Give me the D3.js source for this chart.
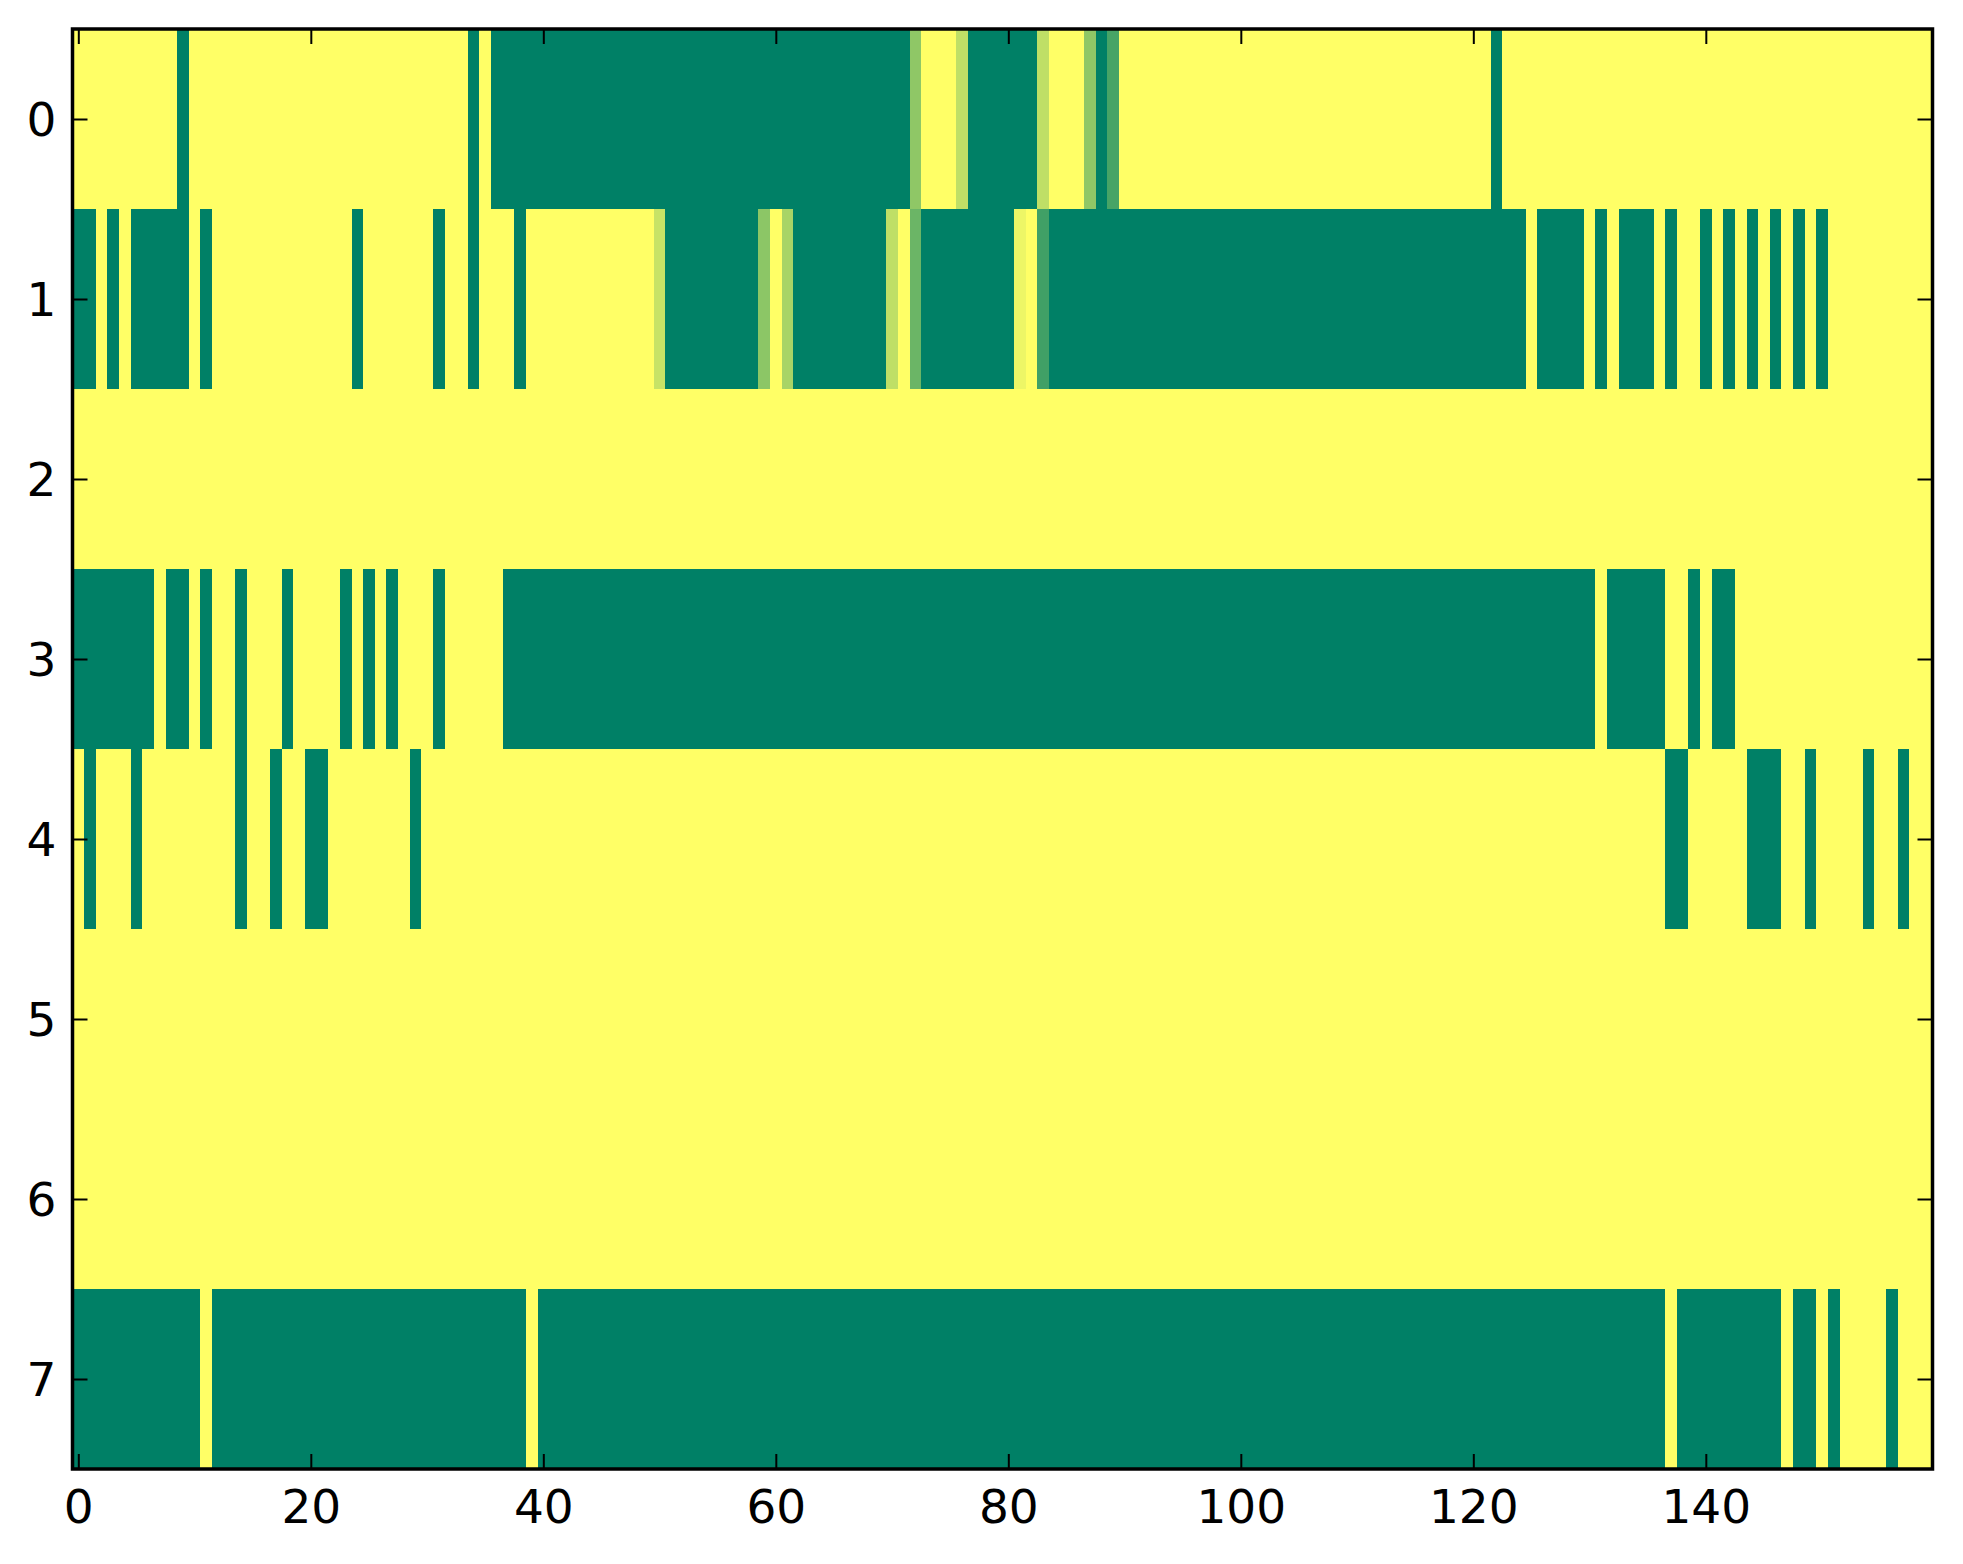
<!DOCTYPE html>
<html>
<head>
<meta charset="utf-8">
<script src="https://cdnjs.cloudflare.com/ajax/libs/d3/7.8.5/d3.min.js"></script>
<style>
  body { margin: 0; background: #fff; }
  text { font-family: "DejaVu Sans", sans-serif; }
</style>
</head>
<body>
<script>
// grid values, 0 = green, 1 = yellow (summer colormap)
var row0 = [
  1,1,1,1,1,1,1,1,1,0,1,1,1,1,1,1,1,1,1,1,
  1,1,1,1,1,1,1,1,1,1,1,1,1,1,0,1,0,0,0,0,
  0,0,0,0,0,0,0,0,0,0,0,0,0,0,0,0,0,0,0,0,
  0,0,0,0,0,0,0,0,0,0,0,0,0.56,1,1,1,0.75,0,0,0,
  0,0,0,0.75,1,1,1,0.56,0,0.28,1,1,1,1,1,1,1,1,1,1,
  1,1,1,1,1,1,1,1,1,1,1,1,1,1,1,1,1,1,1,1,
  1,1,0,1,1,1,1,1,1,1,1,1,1,1,1,1,1,1,1,1,
  1,1,1,1,1,1,1,1,1,1,1,1,1,1,1,1,1,1,1,1
]
var row1 = [
  0,0,1,0,1,0,0,0,0,0,1,0,1,1,1,1,1,1,1,1,
  1,1,1,1,0,1,1,1,1,1,1,0,1,1,0,1,1,1,0,1,
  1,1,1,1,1,1,1,1,1,1,0.78,0,0,0,0,0,0,0,0,0.55,
  1,0.66,0,0,0,0,0,0,0,0,0.75,1,0.42,0,0,0,0,0,0,0,
  0,0.93,1,0.25,0,0,0,0,0,0,0,0,0,0,0,0,0,0,0,0,
  0,0,0,0,0,0,0,0,0,0,0,0,0,0,0,0,0,0,0,0,
  0,0,0,0,0,1,0,0,0,0,1,0,1,0,0,0,1,0,1,1,
  0,1,0,1,0,1,0,1,0,1,0,1,1,1,1,1,1,1,1,1
]
var row2 = [
  1,1,1,1,1,1,1,1,1,1,1,1,1,1,1,1,1,1,1,1,
  1,1,1,1,1,1,1,1,1,1,1,1,1,1,1,1,1,1,1,1,
  1,1,1,1,1,1,1,1,1,1,1,1,1,1,1,1,1,1,1,1,
  1,1,1,1,1,1,1,1,1,1,1,1,1,1,1,1,1,1,1,1,
  1,1,1,1,1,1,1,1,1,1,1,1,1,1,1,1,1,1,1,1,
  1,1,1,1,1,1,1,1,1,1,1,1,1,1,1,1,1,1,1,1,
  1,1,1,1,1,1,1,1,1,1,1,1,1,1,1,1,1,1,1,1,
  1,1,1,1,1,1,1,1,1,1,1,1,1,1,1,1,1,1,1,1
]
var row3 = [
  0,0,0,0,0,0,0,1,0,0,1,0,1,1,0,1,1,1,0,1,
  1,1,1,0,1,0,1,0,1,1,1,0,1,1,1,1,1,0,0,0,
  0,0,0,0,0,0,0,0,0,0,0,0,0,0,0,0,0,0,0,0,
  0,0,0,0,0,0,0,0,0,0,0,0,0,0,0,0,0,0,0,0,
  0,0,0,0,0,0,0,0,0,0,0,0,0,0,0,0,0,0,0,0,
  0,0,0,0,0,0,0,0,0,0,0,0,0,0,0,0,0,0,0,0,
  0,0,0,0,0,0,0,0,0,0,0,1,0,0,0,0,0,1,1,0,
  1,0,0,1,1,1,1,1,1,1,1,1,1,1,1,1,1,1,1,1
]
var row4 = [
  1,0,1,1,1,0,1,1,1,1,1,1,1,1,0,1,1,0,1,1,
  0,0,1,1,1,1,1,1,1,0,1,1,1,1,1,1,1,1,1,1,
  1,1,1,1,1,1,1,1,1,1,1,1,1,1,1,1,1,1,1,1,
  1,1,1,1,1,1,1,1,1,1,1,1,1,1,1,1,1,1,1,1,
  1,1,1,1,1,1,1,1,1,1,1,1,1,1,1,1,1,1,1,1,
  1,1,1,1,1,1,1,1,1,1,1,1,1,1,1,1,1,1,1,1,
  1,1,1,1,1,1,1,1,1,1,1,1,1,1,1,1,1,0,0,1,
  1,1,1,1,0,0,0,1,1,0,1,1,1,1,0,1,1,0,1,1
]
var row5 = [
  1,1,1,1,1,1,1,1,1,1,1,1,1,1,1,1,1,1,1,1,
  1,1,1,1,1,1,1,1,1,1,1,1,1,1,1,1,1,1,1,1,
  1,1,1,1,1,1,1,1,1,1,1,1,1,1,1,1,1,1,1,1,
  1,1,1,1,1,1,1,1,1,1,1,1,1,1,1,1,1,1,1,1,
  1,1,1,1,1,1,1,1,1,1,1,1,1,1,1,1,1,1,1,1,
  1,1,1,1,1,1,1,1,1,1,1,1,1,1,1,1,1,1,1,1,
  1,1,1,1,1,1,1,1,1,1,1,1,1,1,1,1,1,1,1,1,
  1,1,1,1,1,1,1,1,1,1,1,1,1,1,1,1,1,1,1,1
]
var row6 = [
  1,1,1,1,1,1,1,1,1,1,1,1,1,1,1,1,1,1,1,1,
  1,1,1,1,1,1,1,1,1,1,1,1,1,1,1,1,1,1,1,1,
  1,1,1,1,1,1,1,1,1,1,1,1,1,1,1,1,1,1,1,1,
  1,1,1,1,1,1,1,1,1,1,1,1,1,1,1,1,1,1,1,1,
  1,1,1,1,1,1,1,1,1,1,1,1,1,1,1,1,1,1,1,1,
  1,1,1,1,1,1,1,1,1,1,1,1,1,1,1,1,1,1,1,1,
  1,1,1,1,1,1,1,1,1,1,1,1,1,1,1,1,1,1,1,1,
  1,1,1,1,1,1,1,1,1,1,1,1,1,1,1,1,1,1,1,1
]
var row7 = [
  0,0,0,0,0,0,0,0,0,0,0,1,0,0,0,0,0,0,0,0,
  0,0,0,0,0,0,0,0,0,0,0,0,0,0,0,0,0,0,0,1,
  0,0,0,0,0,0,0,0,0,0,0,0,0,0,0,0,0,0,0,0,
  0,0,0,0,0,0,0,0,0,0,0,0,0,0,0,0,0,0,0,0,
  0,0,0,0,0,0,0,0,0,0,0,0,0,0,0,0,0,0,0,0,
  0,0,0,0,0,0,0,0,0,0,0,0,0,0,0,0,0,0,0,0,
  0,0,0,0,0,0,0,0,0,0,0,0,0,0,0,0,0,1,0,0,
  0,0,0,0,0,0,0,1,0,0,1,0,1,1,1,1,0,1,1,1
]

var rows = [row0, row1, row2, row3, row4, row5, row6, row7]
var xTicks = [0, 20, 40, 60, 80, 100, 120, 140]
var yTicks = [0, 1, 2, 3, 4, 5, 6, 7]

var svgWidth = 1963, svgHeight = 1564
// note: "top" is taken by window.top, so plot edges get their own names
var plotLeft = 72.5, plotRight = 1932.5, plotTop = 29, plotBottom = 1469
var nCols = row0.length

var svg = d3.select("body").append("svg")
    .attr("width", svgWidth)
    .attr("height", svgHeight)

svg.append("rect")
    .attr("width", svgWidth)
    .attr("height", svgHeight)
    .attr("fill", "white")

var x = d3.scaleLinear().domain([-0.5, nCols - 0.5]).range([plotLeft, plotRight])
var y = d3.scaleLinear().domain([-0.5, rows.length - 0.5]).range([plotTop, plotBottom])

// summer colormap
var color = d3.scaleLinear().domain([0, 1]).range(["#008066", "#ffff66"])

// flatten to cells
var cells = []
rows.forEach(function(r, ri){
    r.forEach(function(v, ci){
        cells.push({row: ri, col: ci, value: v})
    })
})

svg.append("g")
    .selectAll("rect")
    .data(cells)
    .enter()
    .append("rect")
    .attr("x", function(d){ return x(d.col - 0.5) })
    .attr("y", function(d){ return y(d.row - 0.5) })
    .attr("width", function(d){ return x(d.col + 0.5) - x(d.col - 0.5) + 0.3 })
    .attr("height", function(d){ return y(d.row + 0.5) - y(d.row - 0.5) + 0.3 })
    .attr("fill", function(d){ return color(d.value) })
    .attr("shape-rendering", "crispEdges")

// axes, ticks pointing inward
var fontSize = 47

var xBottom = svg.append("g")
    .attr("transform", "translate(0," + plotBottom + ")")
    .call(d3.axisBottom(x).tickValues(xTicks).tickSize(-15).tickPadding(19))
var xTop = svg.append("g")
    .attr("transform", "translate(0," + plotTop + ")")
    .call(d3.axisTop(x).tickValues(xTicks).tickSize(-15).tickFormat(""))
var yLeft = svg.append("g")
    .attr("transform", "translate(" + plotLeft + ",0)")
    .call(d3.axisLeft(y).tickValues(yTicks).tickSize(-15).tickPadding(16))
var yRight = svg.append("g")
    .attr("transform", "translate(" + plotRight + ",0)")
    .call(d3.axisRight(y).tickValues(yTicks).tickSize(-15).tickFormat(""))

;[xBottom, xTop, yLeft, yRight].forEach(function(g){
    g.select(".domain").remove()
    g.selectAll(".tick line").attr("stroke", "black").attr("stroke-width", 2)
    g.selectAll(".tick text")
        .attr("fill", "black")
        .style("font-family", "'DejaVu Sans', sans-serif")
        .style("font-size", fontSize + "px")
})
xBottom.selectAll(".tick text").attr("dy", "0.75em")
yLeft.selectAll(".tick text").attr("dy", "0.36em")

// frame
svg.append("rect")
    .attr("x", plotLeft)
    .attr("y", plotTop)
    .attr("width", plotRight - plotLeft)
    .attr("height", plotBottom - plotTop)
    .attr("fill", "none")
    .attr("stroke", "black")
    .attr("stroke-width", 3.5)
</script>
</body>
</html>
